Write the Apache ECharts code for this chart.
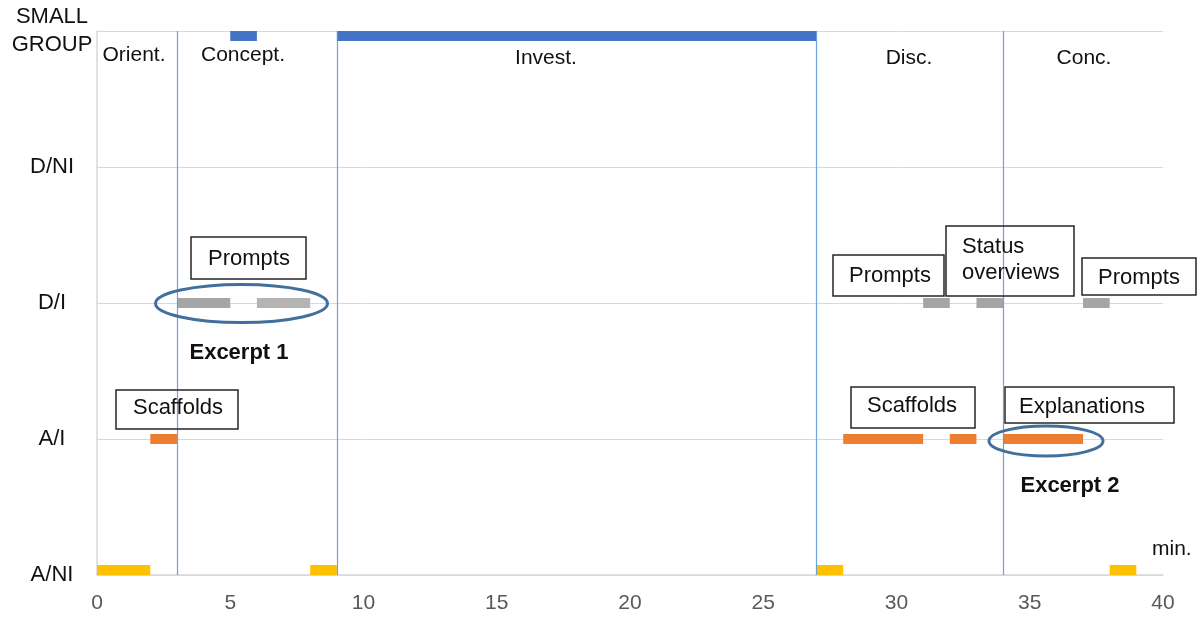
<!DOCTYPE html>
<html>
<head>
<meta charset="utf-8">
<script src="https://cdn.jsdelivr.net/npm/echarts@6/dist/echarts.min.js"></script>
<style>
html,body{margin:0;padding:0;background:#fff;}
#chart{width:1201px;height:617px;}
</style>
</head>
<body>
<div id="chart"></div>
<script>
// Level categories (bottom to top)
const levels = ['A/NI', 'A/I', 'D/I', 'D/NI', 'SMALL\nGROUP'];
// Phase names and boundaries (minutes)
const phaseNames = ['Orient.', 'Concept.', 'Invest.', 'Disc.', 'Conc.'];
const phaseBoundaries = [3, 9, 27, 34];
// Segments [start, end] in minutes per level
const aniSegments = [[0, 2], [8, 9], [27, 28], [38, 39]];
const aiSegments = [[2, 3], [28, 31], [32, 33], [34, 37]];
const diSegmentsDark = [[3, 5], [31, 32], [33, 34], [37, 38]];
const diSegmentsLight = [[6, 8]];
const sgSegments = [[5, 6], [9, 27]];
// Annotation texts
const promptsText = 'Prompts';
const scaffoldsText = 'Scaffolds';
const statusText = 'Status\noverviews';
const explanationsText = 'Explanations';
const excerpt1Text = 'Excerpt 1';
const excerpt2Text = 'Excerpt 2';
const unitText = 'min.';

const chart = echarts.init(document.getElementById('chart'), null, {renderer: 'canvas'});
const FONT = 'Liberation Sans, Arial, sans-serif';

function segSeries(name, segs, level, color, mode) {
  return {
    type: 'custom',
    name: name,
    data: segs.map(s => [s[0], s[1], level]),
    encode: {x: [0, 1], y: 2},
    renderItem: function (params, api) {
      const a = api.coord([api.value(0), api.value(2)]);
      const b = api.coord([api.value(1), api.value(2)]);
      const h = 10;
      let y = a[1] - h / 2;
      if (mode === 'above') y = a[1] - h;
      if (mode === 'below') y = a[1];
      return {
        type: 'rect',
        shape: {x: a[0], y: y, width: b[0] - a[0], height: h},
        style: {fill: color}
      };
    },
    z: 3
  };
}

const vlineSeries = {
  type: 'line',
  data: [],
  markLine: {
    silent: true,
    symbol: ['none', 'none'],
    label: {show: false},
    lineStyle: {color: '#5b9bd5', width: 1.2, type: 'solid', opacity: 0.9},
    data: phaseBoundaries.map(v => ({xAxis: v}))
  },
  z: 4
};

function box(x, y, w, h) {
  return {type: 'rect', shape: {x: x, y: y, width: w, height: h},
    style: {fill: 'none', stroke: '#262626', lineWidth: 1.5}, z: 10};
}
function txt(x, y, text, opts) {
  return Object.assign({type: 'text', x: x, y: y, z: 11,
    style: Object.assign({text: text, font: '21px ' + FONT, fill: '#111', textAlign: 'center', textVerticalAlign: 'middle'}, opts || {})});
}
function ell(cx, cy, rx, ry) {
  return {type: 'ellipse', shape: {cx: cx, cy: cy, rx: rx, ry: ry},
    style: {fill: 'none', stroke: '#41709c', lineWidth: 3}, z: 12};
}

const phaseX = [134, 243, 546, 909, 1084];
const phaseY = [55, 55, 58, 58, 58];

const option = {
  animation: false,
  backgroundColor: '#fff',
  grid: {left: 97, right: 38, top: 31, bottom: 42, containLabel: false},
  xAxis: {
    type: 'value', min: 0, max: 40, interval: 5,
    axisLine: {show: true, lineStyle: {color: '#d9d9d9', width: 1.5}},
    axisTick: {show: false},
    splitLine: {show: false},
    axisLabel: {color: '#595959', fontSize: 21, fontFamily: FONT, margin: 18}
  },
  yAxis: {
    type: 'value', min: 0, max: 4, interval: 1,
    axisLine: {show: true, lineStyle: {color: '#d9d9d9', width: 1.5}},
    axisTick: {show: false},
    splitLine: {show: true, lineStyle: {color: '#d9d9d9', width: 1}},
    axisLabel: {
      color: '#111', fontSize: 22, fontFamily: FONT, margin: 45, align: 'center', lineHeight: 28,
      formatter: v => levels[v] || ''
    }
  },
  series: [
    vlineSeries,
    segSeries('A/NI', aniSegments, 0, '#ffc000', 'above'),
    segSeries('A/I', aiSegments, 1, '#ed7d31', 'center'),
    segSeries('D/I dark', diSegmentsDark, 2, '#a5a5a5', 'center'),
    segSeries('D/I light', diSegmentsLight, 2, '#b4b4b4', 'center'),
    segSeries('SMALL GROUP', sgSegments, 4, '#4472c4', 'below')
  ],
  graphic: [].concat(
    phaseNames.map((p, i) => txt(phaseX[i], phaseY[i], p)),
    [
      box(191, 237, 115, 42), txt(249, 259, promptsText, {font: '22px ' + FONT}),
      ell(241.5, 303.5, 86, 19),
      txt(239, 353, excerpt1Text, {font: 'bold 22px ' + FONT}),
      box(116, 390, 122, 39), txt(178, 408, scaffoldsText, {font: '22px ' + FONT}),
      box(833, 255, 111, 41), txt(890, 276, promptsText, {font: '22px ' + FONT}),
      box(946, 226, 128, 70), txt(962, 260, statusText, {font: '22px ' + FONT, textAlign: 'left', lineHeight: 26}),
      box(1082, 258, 114, 37), txt(1139, 278, promptsText, {font: '22px ' + FONT}),
      box(851, 387, 124, 41), txt(912, 406, scaffoldsText, {font: '22px ' + FONT}),
      box(1005, 387, 169, 36), txt(1019, 407, explanationsText, {font: '22px ' + FONT, textAlign: 'left'}),
      ell(1046, 441, 57, 15),
      txt(1070, 486, excerpt2Text, {font: 'bold 22px ' + FONT}),
      txt(1152, 549, unitText, {font: '21px ' + FONT, textAlign: 'left'})
    ]
  )
};
chart.setOption(option);
</script>
</body>
</html>
